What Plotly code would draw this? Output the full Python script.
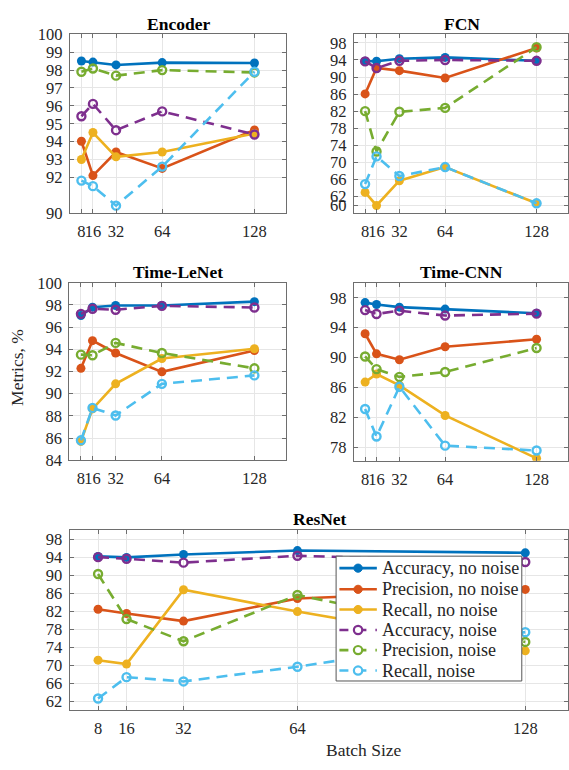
import plotly.graph_objects as go

batch = [8, 16, 32, 64, 128]

series_names = ["Accuracy, no noise", "Precision, no noise", "Recall, no noise",
                "Accuracy, noise", "Precision, noise", "Recall, noise"]
colors = ["#0072BD", "#D95319", "#EDB120", "#7E2F8E", "#77AC30", "#4DBEEE"]

# Encoder
enc_acc = [98.51, 98.45, 98.29, 98.42, 98.40]
enc_prec = [94.02, 92.10, 93.42, 92.50, 94.65]
enc_rec = [93.00, 94.51, 93.15, 93.42, 94.45]
enc_acc_n = [95.42, 96.11, 94.64, 95.69, 94.40]
enc_prec_n = [97.91, 98.09, 97.69, 98.00, 97.87]
enc_rec_n = [91.82, 91.51, 90.42, 92.60, 97.91]

# FCN
fcn_acc = [93.70, 93.70, 94.30, 94.60, 93.80]
fcn_prec = [86.04, 92.13, 91.50, 89.77, 96.80]
fcn_rec = [62.95, 59.90, 65.70, 68.90, 60.40]
fcn_acc_n = [93.66, 92.10, 93.80, 94.00, 93.80]
fcn_prec_n = [82.00, 72.55, 81.85, 82.76, 97.00]
fcn_rec_n = [64.90, 71.40, 66.80, 68.90, 60.40]

# Time-LeNet
tl_acc = [97.04, 97.80, 97.95, 97.95, 98.30]
tl_prec = [92.29, 94.78, 93.67, 91.97, 93.90]
tl_rec = [85.70, 88.63, 90.89, 93.17, 94.05]
tl_acc_n = [97.20, 97.66, 97.57, 97.92, 97.77]
tl_prec_n = [93.52, 93.47, 94.58, 93.67, 92.29]
tl_rec_n = [85.80, 88.72, 88.04, 90.89, 91.65]

# Time-CNN
tc_acc = [97.35, 97.09, 96.74, 96.48, 95.92]
tc_prec = [93.19, 90.50, 89.72, 91.45, 92.45]
tc_rec = [86.73, 87.81, 86.30, 82.27, 76.54]
tc_acc_n = [96.35, 95.83, 96.27, 95.62, 95.88]
tc_prec_n = [90.15, 88.46, 87.42, 88.07, 91.28]
tc_rec_n = [83.13, 79.45, 86.10, 78.23, 77.58]

# ResNet
rn_acc = [94.16, 93.94, 94.60, 95.46, 94.96]
rn_prec = [82.42, 81.48, 79.80, 84.80, 86.84]
rn_rec = [71.12, 70.25, 86.77, 81.91, 73.20]
rn_acc_n = [94.00, 93.65, 92.78, 94.30, 92.93]
rn_prec_n = [90.25, 80.25, 75.32, 85.60, 75.17]
rn_rec_n = [62.60, 67.35, 66.40, 69.67, 77.35]

panels = [
    ("Encoder", [enc_acc, enc_prec, enc_rec, enc_acc_n, enc_prec_n, enc_rec_n]),
    ("FCN", [fcn_acc, fcn_prec, fcn_rec, fcn_acc_n, fcn_prec_n, fcn_rec_n]),
    ("Time-LeNet", [tl_acc, tl_prec, tl_rec, tl_acc_n, tl_prec_n, tl_rec_n]),
    ("Time-CNN", [tc_acc, tc_prec, tc_rec, tc_acc_n, tc_prec_n, tc_rec_n]),
    ("ResNet", [rn_acc, rn_prec, rn_rec, rn_acc_n, rn_prec_n, rn_rec_n]),
]

y_ranges = [[90, 100], [58.1, 100], [84, 100], [76.2, 100], [60, 100]]
y_ticks = [
    [90, 92, 93, 94, 95, 96, 97, 98, 99, 100],
    [60, 62, 66, 70, 74, 78, 82, 86, 90, 94, 98],
    [84, 86, 88, 90, 92, 94, 96, 98, 100],
    [78, 82, 86, 90, 94, 98],
    [62, 66, 70, 74, 78, 82, 86, 90, 94, 98],
]
x_ranges = [[0, 150], [0, 150], [0, 150], [0, 150], [0, 140]]

W, H = 569, 770
# pixel boxes (left, right, top, bottom)
boxes = [
    (70, 286.7, 26, 209.3),
    (354.3, 569, 26, 209.3),
    (69.5, 286.7, 280.7, 462.7),
    (354.3, 569, 280.7, 463.3),
    (69.7, 569, 534.3, 719),
]

FONT = "Liberation Serif"
TXT = "#262626"


def px(v):
    return v / W


def py(v):
    return 1 - v / H


fig = go.Figure()
layout = dict(
    width=W, height=H, autosize=False,
    margin=dict(l=0, r=0, t=0, b=0),
    paper_bgcolor="white", plot_bgcolor="white",
    font=dict(family=FONT, size=16, color=TXT),
    showlegend=False,
    annotations=[], shapes=[],
)

for i, (title, data) in enumerate(panels):
    n = i + 1
    xa = "x" if n == 1 else f"x{n}"
    ya = "y" if n == 1 else f"y{n}"
    for j, vals in enumerate(data):
        noise = j >= 3
        fig.add_trace(go.Scatter(
            x=batch, y=vals, xaxis=xa, yaxis=ya,
            mode="lines+markers",
            name=series_names[j],
            line=dict(color=colors[j], width=2.6, dash="11px,7px" if noise else "solid"),
            marker=dict(
                symbol="circle-open" if noise else "circle",
                size=8 if noise else 9,
                color=colors[j],
                line=dict(color=colors[j], width=2.4 if noise else 0),
            ),
        ))
    l, r, t, b = boxes[i]
    axcommon = dict(
        showline=True, linecolor="#6e6e6e", linewidth=1, mirror="ticks",
        ticks="inside", ticklen=4, tickcolor="#6e6e6e", tickwidth=1,
        showgrid=True, gridcolor="#e6e6e6", gridwidth=1,
        zeroline=False, tickfont=dict(family=FONT, size=16.5, color=TXT),
    )
    layout["xaxis" if n == 1 else f"xaxis{n}"] = dict(
        axcommon, domain=[px(l), px(r)], range=x_ranges[i],
        tickvals=batch, ticktext=[str(v) for v in batch],
        anchor=ya, ticklabelstandoff=3, tickangle=0,
    )
    layout["yaxis" if n == 1 else f"yaxis{n}"] = dict(
        axcommon, domain=[py(b), py(t)], range=y_ranges[i],
        tickvals=y_ticks[i], anchor=xa, ticklabelstandoff=3,
    )
    layout["annotations"].append(dict(
        text=f"<b>{title}</b>", x=px((l + (r if r < 569 else 570.5)) / 2),
        y=py(t - 11), xref="paper", yref="paper",
        xanchor="center", yanchor="middle", showarrow=False,
        font=dict(family=FONT, size=17.5, color="black"),
    ))

layout["annotations"].append(dict(
    text="Metrics, %", x=px(17), y=py(367), xref="paper", yref="paper",
    xanchor="center", yanchor="middle", textangle=-90, showarrow=False,
    font=dict(family=FONT, size=17.5, color=TXT),
))
layout["annotations"].append(dict(
    text="Batch Size", x=px(365), y=py(760), xref="paper", yref="paper",
    xanchor="center", yanchor="middle", showarrow=False,
    font=dict(family=FONT, size=17.5, color=TXT),
))

# legend box (drawn in paper pixels, over the ResNet panel)
lg_l, lg_r, lg_t, lg_b = 336.7, 522.7, 561, 689
layout["shapes"].append(dict(
    type="rect", xref="paper", yref="paper", layer="above",
    x0=px(lg_l), x1=px(lg_r), y0=py(lg_b), y1=py(lg_t),
    fillcolor="white", line=dict(color="#555", width=1),
))
row_y = [573.3, 595.0, 615.7, 636.7, 657.3, 678.3]
for j, name in enumerate(series_names):
    noise = j >= 3
    yy = row_y[j]
    layout["shapes"].append(dict(
        type="line", xref="paper", yref="paper", layer="above",
        x0=px(340), x1=px(377.5), y0=py(yy), y1=py(yy),
        line=dict(color=colors[j], width=2.6, dash="dash" if noise else "solid"),
    ))
    rad = 4.2
    layout["shapes"].append(dict(
        type="circle", xref="paper", yref="paper", layer="above",
        x0=px(358.7 - rad), x1=px(358.7 + rad), y0=py(yy + rad), y1=py(yy - rad),
        fillcolor="white" if noise else colors[j],
        line=dict(color=colors[j], width=2.2 if noise else 1),
    ))
    layout["annotations"].append(dict(
        text=name, x=px(380.5), y=py(yy), xref="paper", yref="paper",
        xanchor="left", yanchor="middle", showarrow=False,
        font=dict(family=FONT, size=18, color=TXT),
    ))

fig.update_layout(**layout)

fig.write_html("out.html", config={"displayModeBar": False},
               post_script="document.body.style.margin='0';document.body.style.overflow='hidden';")
